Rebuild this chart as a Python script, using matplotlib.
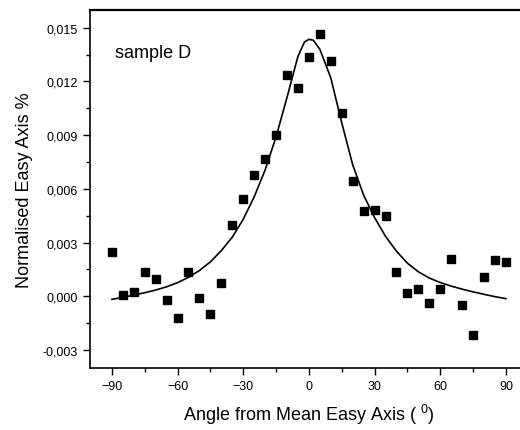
import matplotlib
matplotlib.use("Agg")
import matplotlib.pyplot as plt
from matplotlib.ticker import MultipleLocator, FuncFormatter

plt.rcParams['font.family'] = ['Liberation Sans', 'DejaVu Sans']
plt.rcParams['mathtext.fontset'] = 'custom'
plt.rcParams['mathtext.rm'] = 'Liberation Sans'
plt.rcParams['mathtext.it'] = 'Liberation Sans'

# measured points
angle = [-90, -85, -80, -75, -70, -65, -60, -55, -50, -45, -40, -35, -30,
         -25, -20, -15, -10, -5, 0, 5, 10, 15, 20, 25, 30, 35,
         40, 45, 50, 55, 60, 65, 70, 75, 80, 85, 90]
easy = [0.00245, 0.00006, 0.00022, 0.00133, 0.00099, -0.00020, -0.00119,
        0.00133, -0.00009, -0.00099, 0.00073, 0.00397, 0.00542,
        0.00679, 0.00765, 0.00901, 0.01234, 0.01164, 0.01334, 0.01465,
        0.01312, 0.01021, 0.00644, 0.00478, 0.00481, 0.00446,
        0.00134, 0.00019, 0.00038, -0.00037, 0.00043, 0.00207, -0.00048,
        -0.00216, 0.00106, 0.00204, 0.00189]

# fitted curve
fit_angle = [-90, -85, -80, -75, -70, -65, -60, -55, -50, -45, -40, -35, -30,
             -25, -20, -15, -10, -5, -2, 0, 2, 5, 10, 15, 20, 25, 30, 35,
             40, 45, 50, 55, 60, 65, 70, 75, 80, 85, 90]
fit_easy = [-0.00017, -0.00006, 0.00007, 0.00020, 0.00035, 0.00053, 0.00076,
            0.00106, 0.00144, 0.00192, 0.00255, 0.00330, 0.00430,
            0.00555, 0.00705, 0.00890, 0.01110, 0.01340, 0.01420, 0.01435,
            0.01430, 0.01380, 0.01220, 0.00970, 0.00735, 0.00565, 0.00440,
            0.00335, 0.00252, 0.00185, 0.00137, 0.00102, 0.00077, 0.00057,
            0.00040, 0.00025, 0.00011, -0.00002, -0.00013]

fig = plt.figure(figsize=(5.2, 4.31), dpi=100)
ax = fig.add_axes([0.173, 0.144, 0.842, 0.831])

ax.plot(fit_angle, fit_easy, color='black', lw=1.2)
ax.plot(angle, easy, 's', color='black', ms=5.5, mec='black')

ax.set_xlim(-100, 100)
ax.set_ylim(-0.004, 0.016)
ax.xaxis.set_major_locator(MultipleLocator(30))
ax.xaxis.set_minor_locator(MultipleLocator(15))
ax.yaxis.set_major_locator(MultipleLocator(0.003))
ax.yaxis.set_minor_locator(MultipleLocator(0.0015))
ax.yaxis.set_major_formatter(FuncFormatter(lambda v, p: ('%.3f' % v).replace('.', ',').replace('-0,000', '0,000')))
ax.tick_params(which='both', direction='out', labelsize=9, width=1)
ax.tick_params(which='major', length=5)
ax.tick_params(which='minor', length=3)
for s in ax.spines.values():
    s.set_linewidth(1.2)
ax.spines['top'].set_linewidth(1.6)
ax.spines['right'].set_visible(False)

ax.set_xlabel('Angle from Mean Easy Axis ( $^{0}$)', fontsize=13, labelpad=7)
ax.set_ylabel('Normalised Easy Axis %', fontsize=13, labelpad=7)
ax.text(-88.6, 0.01364, 'sample D', fontsize=13, va='center', ha='left')

fig.savefig('out.png', dpi=100)
